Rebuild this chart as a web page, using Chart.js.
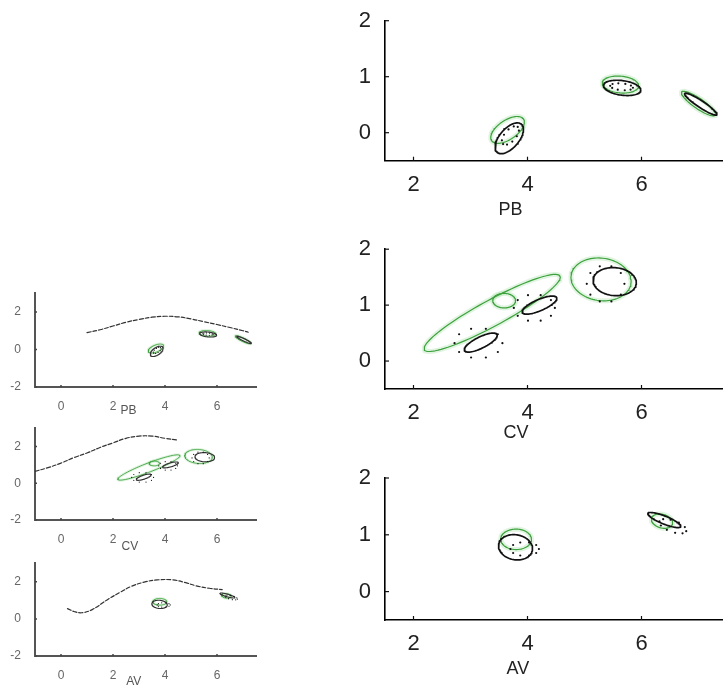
<!DOCTYPE html>
<html><head><meta charset="utf-8">
<script src="https://cdn.jsdelivr.net/npm/chart.js@4.4.1/dist/chart.umd.min.js"></script>
<style>
html,body{margin:0;padding:0;background:#fff;overflow:hidden;width:723px;height:690px;position:relative;}
canvas{position:absolute;}
</style></head><body>
<canvas id="pbSmall"></canvas>
<canvas id="cvSmall"></canvas>
<canvas id="avSmall"></canvas>
<canvas id="pbBig"></canvas>
<canvas id="cvBig"></canvas>
<canvas id="avBig"></canvas>
<script>
// ---------- tick labels ----------
const bigXTicks = [2, 4, 6];
const bigYTicks = [0, 1, 2];
const smallXTicks = [0, 2, 4, 6];
const smallYTicks = [-2, 0, 2];

// ---------- axis labels ----------
const panelNames = ['PB', 'CV', 'AV'];

// ---------- PB ellipses (centre x, centre y, semi-axis a, semi-axis b, angle deg) ----------
const pbGreenCx = [3.65, 5.63, 7.0];
const pbGreenCy = [0.05, 0.86, 0.52];
const pbGreenA = [0.34, 0.32, 0.36];
const pbGreenB = [0.17, 0.15, 0.09];
const pbGreenAng = [35, -5, -35];
const pbBlackCx = [3.68, 5.66, 7.04];
const pbBlackCy = [-0.1, 0.80, 0.51];
const pbBlackA = [0.33, 0.33, 0.34];
const pbBlackB = [0.17, 0.13, 0.06];
const pbBlackAng = [50, -8, -34];
const pbDotCx = [3.7, 5.65];
const pbDotCy = [-0.05, 0.82];
const pbDotA = [0.2, 0.2];
const pbDotB = [0.1, 0.06];
const pbDotAng = [50, -5];

// ---------- CV ellipses ----------
const cvGreenCx = [3.38, 3.59, 5.29];
const cvGreenCy = [0.86, 1.08, 1.46];
const cvGreenA = [1.36, 0.2, 0.53];
const cvGreenB = [0.23, 0.13, 0.38];
const cvGreenAng = [29, 0, -8];
const cvBlackCx = [3.18, 4.21, 5.53];
const cvBlackCy = [0.33, 1.0, 1.42];
const cvBlackA = [0.32, 0.33, 0.38];
const cvBlackB = [0.1, 0.1, 0.25];
const cvBlackAng = [27, 24, -5];
const cvDotCx = [3.14, 4.12, 5.37];
const cvDotCy = [0.32, 0.95, 1.38];
const cvDotA = [0.42, 0.36, 0.33];
const cvDotB = [0.27, 0.24, 0.33];
const cvDotAng = [0, 0, 0];

// ---------- AV ellipses ----------
const avGreenCx = [3.8, 6.36];
const avGreenCy = [0.92, 1.24];
const avGreenA = [0.27, 0.19];
const avGreenB = [0.18, 0.12];
const avGreenAng = [0, -15];
const avBlackCx = [3.79, 6.4];
const avBlackCy = [0.78, 1.26];
const avBlackA = [0.3, 0.31];
const avBlackB = [0.22, 0.07];
const avBlackAng = [-10, -22];
const avDotCx = [3.95, 6.55];
const avDotCy = [0.75, 1.15];
const avDotA = [0.25, 0.25];
const avDotB = [0.12, 0.1];
const avDotAng = [0, -20];

// ---------- curves (small panels) ----------
const pbCurveX = [1, 1.5, 2, 2.5, 3, 3.5, 4, 4.5, 5, 5.5, 6, 6.5, 7, 7.2];
const pbCurveY = [0.9, 1.05, 1.25, 1.45, 1.6, 1.72, 1.77, 1.74, 1.63, 1.48, 1.33, 1.17, 1.0, 0.92];
const cvCurveX = [-1, -0.5, 0, 0.5, 1, 1.5, 2, 2.5, 3, 3.5, 4, 4.5];
const cvCurveY = [0.65, 0.85, 1.1, 1.4, 1.65, 1.95, 2.2, 2.45, 2.57, 2.57, 2.45, 2.35];
const avCurveX = [0.25, 0.5, 0.8, 1.2, 1.8, 2.3, 2.7, 3.2, 3.7, 4.3, 4.8, 5.2, 5.7, 6.2];
const avCurveY = [0.55, 0.4, 0.33, 0.5, 1.05, 1.45, 1.75, 1.98, 2.1, 2.1, 1.95, 1.78, 1.65, 1.58];

// ---------- helpers ----------
function ellipsePoints(cx, cy, a, b, angDeg, n, closed) {
  const t0 = angDeg * Math.PI / 180, pts = [];
  const m = closed ? n + 1 : n;
  for (let i = 0; i < m; i++) {
    const t = 2 * Math.PI * (i % n) / n;
    const ex = a * Math.cos(t), ey = b * Math.sin(t);
    pts.push({x: cx + ex * Math.cos(t0) - ey * Math.sin(t0), y: cy + ex * Math.sin(t0) + ey * Math.cos(t0)});
  }
  return pts;
}
const lineBase = {showLine: true, pointRadius: 0, fill: false, tension: 0, borderJoinStyle: 'round', borderCapStyle: 'round'};
function ellipseSets(cxs, cys, as, bs, angs, kind, small) {
  const out = [];
  cxs.forEach((cx, i) => {
    if (kind === 'dot') {
      out.push({data: ellipsePoints(cx, cys[i], as[i], bs[i], angs[i], 10, false), showLine: false,
        pointRadius: small ? 0.6 : 1.1, pointBackgroundColor: '#111', pointBorderWidth: 0, order: 1});
    } else if (kind === 'green') {
      const pts = ellipsePoints(cx, cys[i], as[i], bs[i], angs[i], 90, true);
      out.push(Object.assign({}, lineBase, {data: pts, borderColor: 'rgba(120,205,120,0.22)', borderWidth: small ? 3 : 5, order: 4}));
      out.push(Object.assign({}, lineBase, {data: pts, borderColor: '#3da23d', borderWidth: small ? 0.9 : 1.2, order: 3}));
    } else {
      out.push(Object.assign({}, lineBase, {data: ellipsePoints(cx, cys[i], as[i], bs[i], angs[i], 90, true),
        borderColor: small ? '#333' : '#111', borderWidth: small ? 1.1 : 1.7, order: 2}));
    }
  });
  return out;
}
function curveSet(xs, ys) {
  return Object.assign({}, lineBase, {data: xs.map((x, i) => ({x: x, y: ys[i]})), borderColor: '#333',
    borderWidth: 1.2, borderDash: [4, 2], tension: 0.4, order: 5});
}

const decor = {
  id: 'decor',
  afterDraw(chart, args, o) {
    const ctx = chart.ctx, xs = chart.scales.x, ys = chart.scales.y, ca = chart.chartArea;
    ctx.save();
    ctx.strokeStyle = o.tickColor; ctx.lineWidth = o.tickWidth;
    xs.ticks.forEach(t => { const p = xs.getPixelForValue(t.value); ctx.beginPath(); ctx.moveTo(p, ca.bottom); ctx.lineTo(p, ca.bottom - o.tickLen); ctx.stroke(); });
    ys.ticks.forEach(t => { const p = ys.getPixelForValue(t.value); ctx.beginPath(); ctx.moveTo(ca.left, p); ctx.lineTo(ca.left + o.tickLen, p); ctx.stroke(); });
    ctx.font = o.labelFont; ctx.fillStyle = o.labelColor; ctx.textAlign = 'center'; ctx.textBaseline = 'middle';
    ctx.fillText(o.label, xs.getPixelForValue(o.labelAt), ca.bottom + o.labelOffset);
    ctx.restore();
  }
};

function build(id, g, datasets, small, label, labelAt, labelOffset) {
  const c = document.getElementById(id);
  c.width = g.W; c.height = g.H;
  c.style.left = g.L + 'px'; c.style.top = g.T + 'px';
  c.style.width = g.W + 'px'; c.style.height = g.H + 'px';
  const xT = small ? smallXTicks : bigXTicks, yT = small ? smallYTicks : bigYTicks;
  const fam = '"Liberation Sans", Arial, sans-serif';
  new Chart(c, {
    type: 'scatter',
    data: {datasets: datasets},
    plugins: [decor],
    options: {
      responsive: false, animation: false, devicePixelRatio: 1,
      layout: {padding: {top: g.y0 - g.T, left: 0, right: 0, bottom: 0}},
      plugins: {legend: {display: false}, tooltip: {enabled: false},
        decor: {tickColor: small ? '#444' : '#111', tickWidth: small ? 1.5 : 1.2, tickLen: small ? 2 : 4,
          label: label, labelAt: labelAt, labelOffset: labelOffset,
          labelFont: (small ? '12px ' : '18px ') + fam, labelColor: small ? '#555' : '#222'}},
      scales: {
        x: {type: 'linear', min: g.xmin, max: g.xmax,
          afterBuildTicks: s => { s.ticks = xT.map(v => ({value: v})); },
          afterFit: s => { s.height = g.T + g.H - g.y1; },
          grid: {display: false},
          border: {display: true, color: small ? '#555' : '#000', width: small ? 2 : 1.6},
          ticks: {padding: small ? 4 : 3, color: small ? '#666' : '#222', maxRotation: 0, autoSkip: false,
            font: {family: fam, size: small ? 12 : 22}}},
        y: {type: 'linear', min: g.ymin, max: g.ymax,
          afterBuildTicks: s => { s.ticks = yT.map(v => ({value: v})); },
          afterFit: s => { s.width = g.x0 - g.L; },
          grid: {display: false},
          border: {display: true, color: small ? '#555' : '#000', width: small ? 2 : 1.6},
          ticks: {padding: small ? 6 : 6, color: small ? '#666' : '#222', autoSkip: false,
            font: {family: fam, size: small ? 12 : 22}}}
      }
    }
  });
}

function panelSets(gs, bs, ds, small) {
  return [].concat(ellipseSets(gs[0], gs[1], gs[2], gs[3], gs[4], 'green', small),
    ellipseSets(bs[0], bs[1], bs[2], bs[3], bs[4], 'black', small),
    ellipseSets(ds[0], ds[1], ds[2], ds[3], ds[4], 'dot', small));
}
const pbG = [pbGreenCx, pbGreenCy, pbGreenA, pbGreenB, pbGreenAng];
const pbK = [pbBlackCx, pbBlackCy, pbBlackA, pbBlackB, pbBlackAng];
const pbD = [pbDotCx, pbDotCy, pbDotA, pbDotB, pbDotAng];
const cvG = [cvGreenCx, cvGreenCy, cvGreenA, cvGreenB, cvGreenAng];
const cvK = [cvBlackCx, cvBlackCy, cvBlackA, cvBlackB, cvBlackAng];
const cvD = [cvDotCx, cvDotCy, cvDotA, cvDotB, cvDotAng];
const avG = [avGreenCx, avGreenCy, avGreenA, avGreenB, avGreenAng];
const avK = [avBlackCx, avBlackCy, avBlackA, avBlackB, avBlackAng];
const avD = [avDotCx, avDotCy, avDotA, avDotB, avDotAng];

// big panels
const bigBase = {L: 340, W: 391, x0: 385, xmin: 1.5, xmax: 7.5, ymin: -0.5, ymax: 2};
build('pbBig', Object.assign({}, bigBase, {T: 0, H: 230, y0: 20.7, y1: 160.7}), panelSets(pbG, pbK, pbD, false), false, panelNames[0], 3.7, 49);
build('cvBig', Object.assign({}, bigBase, {T: 230, H: 220, y0: 248, y1: 389}), panelSets(cvG, cvK, cvD, false), false, panelNames[1], 3.8, 44);
build('avBig', Object.assign({}, bigBase, {T: 450, H: 240, y0: 478, y1: 620}), panelSets(avG, avK, avD, false), false, panelNames[2], 3.83, 49);

// small panels
const smallBase = {L: 0, W: 260, x0: 35, xmin: -1, xmax: 7.5, ymin: -2, ymax: 3};
build('pbSmall', Object.assign({}, smallBase, {T: 280, H: 140, y0: 291.6, y1: 387}),
  [curveSet(pbCurveX, pbCurveY)].concat(panelSets(pbG, pbK, pbD, true)), true, panelNames[0], 2.6, 24);
build('cvSmall', Object.assign({}, smallBase, {T: 415, H: 145, y0: 426.3, y1: 520}),
  [curveSet(cvCurveX, cvCurveY)].concat(panelSets(cvG, cvK, cvD, true)), true, panelNames[1], 2.65, 27);
build('avSmall', Object.assign({}, smallBase, {T: 550, H: 140, y0: 563, y1: 656}),
  [curveSet(avCurveX, avCurveY)].concat(panelSets(avG, avK, avD, true)), true, panelNames[2], 2.8, 26);
</script>
</body></html>
